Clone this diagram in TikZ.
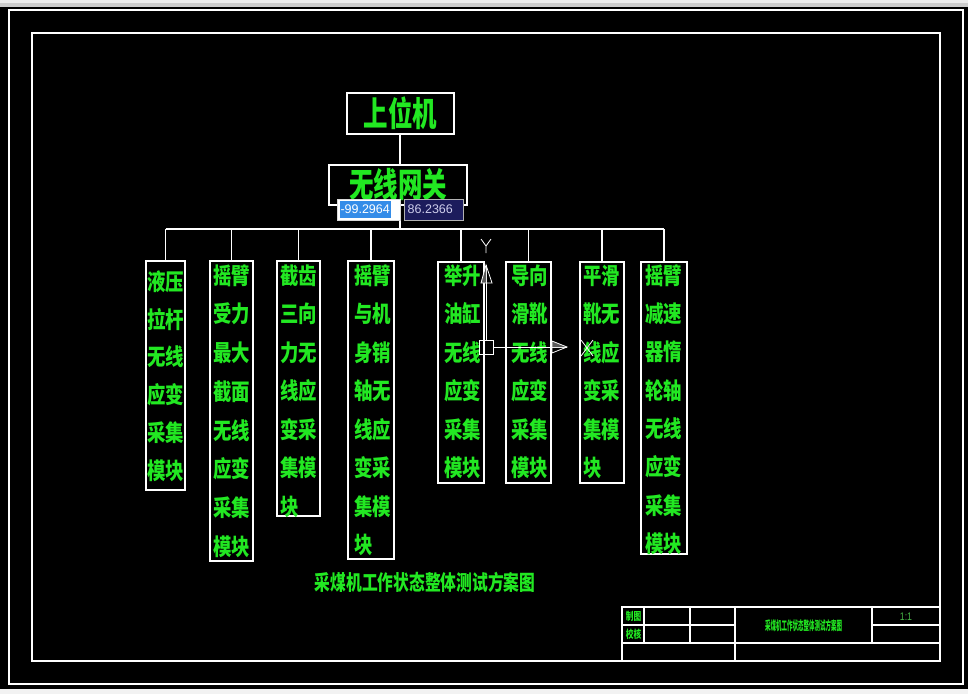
\documentclass[tikz,border=0pt]{standalone}
\usepackage{fontspec}
\setmainfont{Liberation Sans}
\newfontfamily\cjk{Noto Sans CJK SC}
\definecolor{cadgreen}{RGB}{34,232,34}
\definecolor{dimgreen}{RGB}{70,180,70}
\definecolor{hlblue}{RGB}{52,140,232}
\definecolor{tipnavy}{RGB}{28,28,92}
\definecolor{tiptext}{RGB}{205,205,235}
\definecolor{ucsgrey}{RGB}{90,90,90}
\newcommand\cadmodule[9]{%
  \node[modbox, minimum width=#4pt, minimum height=#5pt] (#1) at (#2,#3) {};
  \foreach \t [count=\i] in {#9} {
    \node[modtxt] (#1-\i) at (#6, {#7+2.5+(\i-1)*#8}) {\scalebox{0.8}[1]{\t}};
  }
}
\begin{document}
\begin{tikzpicture}[x=1pt,y=-1pt,
  wline/.style={draw=white, line width=1.2pt},
  modbox/.style={draw=white, line width=1.2pt, anchor=north west, inner sep=0pt, outer sep=0pt},
  modtxt/.style={text=cadgreen, font=\cjk\bfseries\fontsize{23}{23}\selectfont, anchor=west, inner sep=0pt},
  topbox/.style={draw=white, line width=1.2pt, inner sep=0pt, text=cadgreen, font=\cjk\bfseries\fontsize{34}{34}\selectfont},
  smalltxt/.style={text=cadgreen, inner sep=0pt, font=\cjk\bfseries\fontsize{11}{11}\selectfont},
  ucs/.style={draw=white, line width=0.8pt}]
\fill[black] (0,0) rectangle (968,694);
\useasboundingbox (0,0) rectangle (968,694);
% window chrome strips
\fill[gray!40] (0,0) rectangle (968,6.5);
\fill[gray!15] (0,0) rectangle (968,3);
\fill[gray!10] (0,689) rectangle (968,694);
% frames
\draw[wline] (9,10) rectangle (963,684);
\draw[wline] (32,33) rectangle (940,661);

% top boxes
\node[topbox, minimum width=107pt, minimum height=41pt] (host) at (400.5,113.5) {\scalebox{0.72}[1]{上位机}};
\node[topbox, minimum width=138pt, minimum height=40pt] (gw) at (398,185) {\scalebox{0.72}[1]{无线网关}};
\coordinate (busy) at (0,229);
\coordinate (stemx) at (400,0);

% modules
\cadmodule{b1}{146}{261}{39}{229}{147}{279}{37.8}{液压,拉杆,无线,应变,采集,模块}
\cadmodule{b2}{210}{261}{43}{300}{213}{273}{38.7}{摇臂,受力,最大,截面,无线,应变,采集,模块}
\cadmodule{b3}{277}{261}{43}{255}{280}{273}{38.5}{截齿,三向,力无,线应,变采,集模,块}
\cadmodule{b4}{348}{261}{46}{298}{354}{273}{38.5}{摇臂,与机,身销,轴无,线应,变采,集模,块}
\cadmodule{b5}{438}{262}{46}{221}{444}{273}{38.5}{举升,油缸,无线,应变,采集,模块}
\cadmodule{b6}{506}{262}{45}{221}{511}{273}{38.5}{导向,滑靴,无线,应变,采集,模块}
\cadmodule{b7}{580}{262}{44}{221}{583}{273}{38.5}{平滑,靴无,线应,变采,集模,块}
\cadmodule{b8}{641}{262}{46}{292}{645}{273}{38.3}{摇臂,减速,器惰,轮轴,无线,应变,采集,模块}

% connectors
\draw[wline] (stemx |- host.south) -- (stemx |- gw.north);
\draw[wline] (stemx |- gw.south) -- (stemx |- busy);
\draw[wline] (b1.north |- busy) -- (b8.north |- busy);
\foreach \b in {b1,b2,b3,b4,b5,b6,b7,b8} {
  \draw[wline] (\b.north |- busy) -- (\b.north);
}

% caption
\node[text=cadgreen, inner sep=0pt, font=\cjk\bfseries\fontsize{21}{21}\selectfont] (cap) at (425,582) {\scalebox{0.75}[1]{采煤机工作状态整体测试方案图}};

% title block
\draw[wline] (622,607) rectangle (940,661);
\draw[wline] (622,643) -- (940,643);
\draw[wline] (622,625) -- (735,625);
\draw[wline] (872,625) -- (940,625);
\draw[wline] (644,607) -- (644,643);
\draw[wline] (690,607) -- (690,643);
\draw[wline] (735,607) -- (735,661);
\draw[wline] (872,607) -- (872,643);
\node[smalltxt] (tbdraw) at (633.5,616) {\scalebox{0.7}[1]{制图}};
\node[smalltxt] (tbcheck) at (633.5,634) {\scalebox{0.7}[1]{校核}};
\node[smalltxt, font=\cjk\bfseries\fontsize{12.5}{12.5}\selectfont] (tbtitle) at (803.5,626) {\scalebox{0.44}[1]{采煤机工作状态整体测试方案图}};
\node[text=dimgreen, inner sep=0pt, font=\fontsize{11}{11}\selectfont] (tbscale) at (906,617) {\scalebox{0.8}[1]{1:1}};

% coordinate tooltips
\node[draw=gray!30, fill=white, line width=0.8pt, anchor=north west, minimum width=63pt, minimum height=21pt, inner sep=0pt] (tip1) at (337,199) {};
\node[fill=hlblue, text=white, anchor=west, inner sep=0.8pt, minimum height=17pt, font=\fontsize{12.5}{12.5}\selectfont] (tip1v) at (339.5,209.5) {-99.2964};
\node[draw=gray!60, fill=tipnavy, line width=0.8pt, anchor=north west, minimum width=59pt, minimum height=21pt, inner sep=0pt] (tip2) at (404,199) {};
\node[text=tiptext, anchor=west, inner sep=0pt, font=\fontsize{12.5}{12.5}\selectfont] (tip2v) at (407.5,209.5) {86.2366};

% UCS icon
\node[ucs, minimum size=14pt, inner sep=0pt] (ucsbox) at (486,347) {};
\coordinate (ytip) at (486,265);
\coordinate (xtip) at (567,347);
\draw[ucs] (ucsbox.north) -- (ytip);
\draw[ucs] (ucsbox.east) -- (xtip);
\fill[ucsgrey] (ytip) -- (481,283) -- (486,283) -- cycle;
\draw[ucs] (ytip) -- (481,283) -- (492,283) -- cycle;
\fill[ucsgrey] (xtip) -- (552,341) -- (552,347) -- cycle;
\draw[ucs] (xtip) -- (552,341) -- (552,353) -- cycle;
\draw[ucs] (481,239) -- (486,246) -- (491,239) (486,246) -- (486,253);
\draw[ucs] (581,340) -- (593,356) (593,340) -- (581,356);
\end{tikzpicture}
\end{document}
